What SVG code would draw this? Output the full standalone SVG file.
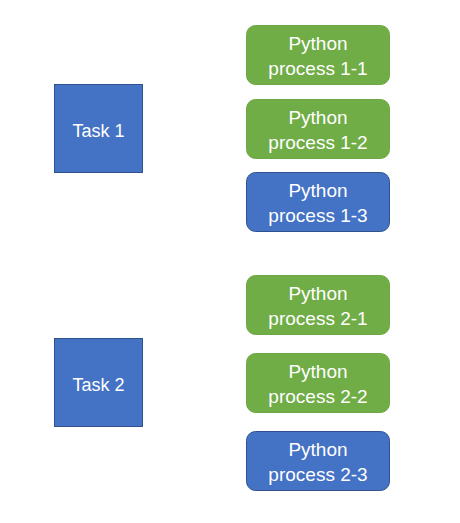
<svg xmlns="http://www.w3.org/2000/svg" width="460" height="523" viewBox="0 0 460 523">
<style>
.task{fill:#4472C4;stroke:#2F528F;stroke-width:1}
.pg{fill:#70AD47;stroke:#6CA843;stroke-width:1}
.pb{fill:#4472C4;stroke:#2F528F;stroke-width:1}
text{font-family:"Liberation Sans",Arial,sans-serif;fill:#FFFFFF;text-anchor:middle}
.t{font-size:18px}
.p{font-size:19px}
</style>
<rect width="460" height="523" fill="#FFFFFF"/>
<g id="connectors"></g>
<g id="task1"><rect class="task" x="54.5" y="84.5" width="88" height="88"/><text class="t" x="98.5" y="136.5">Task 1</text></g>
<g id="task2"><rect class="task" x="54.5" y="338.5" width="88" height="88"/><text class="t" x="98.5" y="390.5">Task 2</text></g>
<g id="p11"><rect class="pg" x="246.5" y="25.5" width="143" height="59" rx="9"/><text class="p" x="318" y="50">Python</text><text class="p" x="318" y="75">process 1-1</text></g>
<g id="p12"><rect class="pg" x="246.5" y="99.5" width="143" height="59" rx="9"/><text class="p" x="318" y="124">Python</text><text class="p" x="318" y="149">process 1-2</text></g>
<g id="p13"><rect class="pb" x="246.5" y="172.5" width="143" height="59" rx="9"/><text class="p" x="318" y="197">Python</text><text class="p" x="318" y="222">process 1-3</text></g>
<g id="p21"><rect class="pg" x="246.5" y="275.5" width="143" height="59" rx="9"/><text class="p" x="318" y="300">Python</text><text class="p" x="318" y="325">process 2-1</text></g>
<g id="p22"><rect class="pg" x="246.5" y="353.5" width="143" height="59" rx="9"/><text class="p" x="318" y="378">Python</text><text class="p" x="318" y="403">process 2-2</text></g>
<g id="p23"><rect class="pb" x="246.5" y="431.5" width="143" height="59" rx="9"/><text class="p" x="318" y="456">Python</text><text class="p" x="318" y="481">process 2-3</text></g>
</svg>
